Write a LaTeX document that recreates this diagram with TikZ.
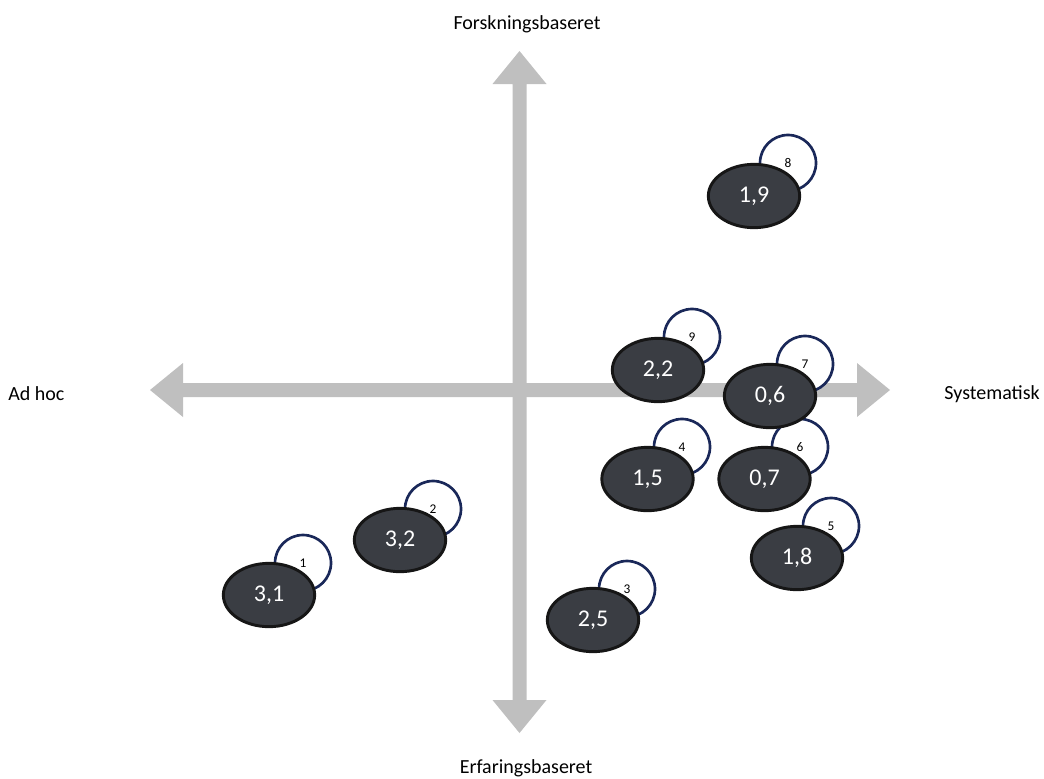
\documentclass[tikz,border=0pt]{standalone}
\usepackage{fontspec}
\setmainfont{Carlito}
\usetikzlibrary{shapes.geometric}
\definecolor{axisgray}{HTML}{BFBFBF}
\definecolor{bubblefill}{HTML}{3A3D43}
\definecolor{bubbleline}{HTML}{161616}
\definecolor{ringnavy}{HTML}{1A2859}
\tikzset{
  bubble/.style={ellipse, draw=bubbleline, line width=2.2pt, fill=bubblefill,
    minimum width=68.5pt, minimum height=47.5pt, inner sep=0pt,
    text=white, font=\fontsize{18}{21}\selectfont},
  ring/.style={circle, draw=ringnavy, line width=2pt, fill=white,
    minimum size=42pt, inner sep=0pt, font=\fontsize{10}{12}\selectfont},
  axislabel/.style={font=\fontsize{15}{18}\selectfont, inner sep=0pt}
}
\begin{document}
\begin{tikzpicture}[x=0.75pt,y=-0.75pt]
\useasboundingbox (0,0) rectangle (1044,778);
% axes
\fill[axisgray] (150,390) -- (183,363) -- (183,383) -- (857,383) -- (857,363) -- (890,390)
  -- (857,417) -- (857,397) -- (183,397) -- (183,417) -- cycle;
\fill[axisgray] (519.5,51) -- (546.5,84) -- (526.5,84) -- (526.5,700) -- (546.5,700) -- (519.5,733)
  -- (492.5,700) -- (512.5,700) -- (512.5,84) -- (492.5,84) -- cycle;
% axis labels
\node[axislabel] (top) at (527,24) {Forskningsbaseret};
\node[axislabel] (bottom) at (526,768) {Erfaringsbaseret};
\node[axislabel, anchor=west] (left) at (8,394) {Ad hoc};
\node[axislabel, anchor=east] (right) at (1040,394) {Systematisk};
% rings
\node[ring] (r1) at (303,563) {1};
\node[ring] (r2) at (433,509) {2};
\node[ring] (r3) at (627,589) {3};
\node[ring] (r4) at (682,447) {4};
\node[ring] (r5) at (831,526) {5};
\node[ring] (r6) at (800,447) {6};
\node[ring] (r7) at (805,364) {7};
\node[ring] (r8) at (788,163) {8};
\node[ring] (r9) at (692,337) {9};
% bubbles
\node[bubble] (b1) at (269,595) {3,1};
\node[bubble] (b2) at (400,540) {3,2};
\node[bubble] (b3) at (593,620) {2,5};
\node[bubble] (b4) at (647.5,479) {1,5};
\node[bubble] (b5) at (797,558) {1,8};
\node[bubble] (b6) at (764.5,479) {0,7};
\node[bubble] (b7) at (770,396) {0,6};
\node[bubble] (b8) at (754,196) {1,9};
\node[bubble] (b9) at (658,370) {2,2};
\end{tikzpicture}
\end{document}
